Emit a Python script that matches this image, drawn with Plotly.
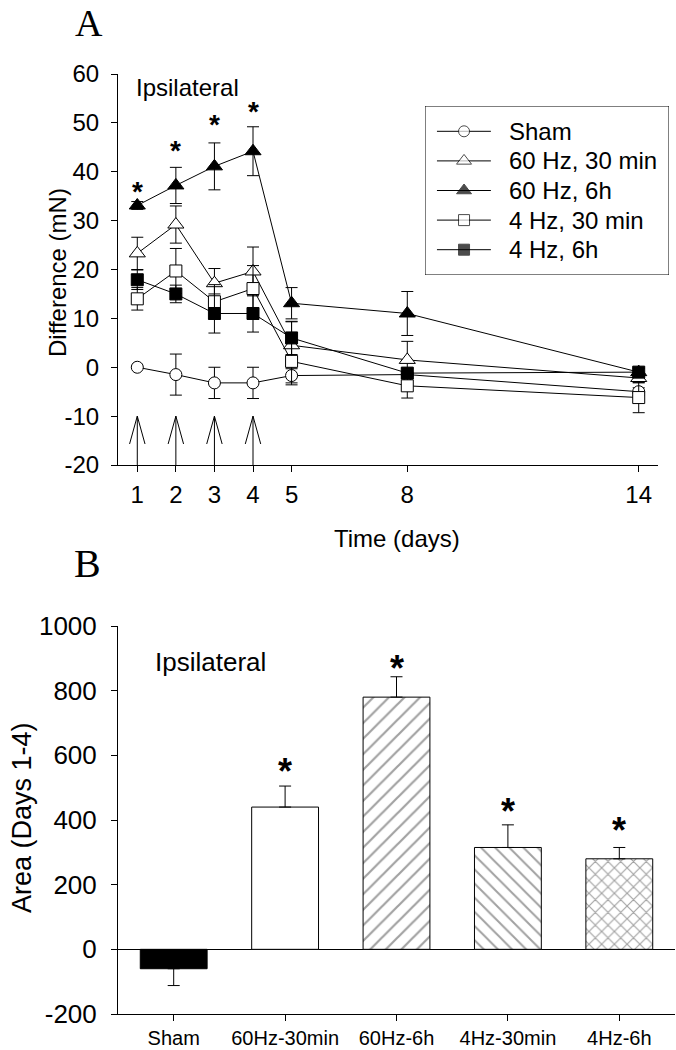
import plotly.graph_objects as go

# ---------------- Panel A data ----------------
days = [1, 2, 3, 4, 5, 8, 14]
day_ticks = [1, 2, 3, 4, 5, 8, 14]
y_ticks_a = [-20, -10, 0, 10, 20, 30, 40, 50, 60]
series_names = ["Sham", "60 Hz, 30 min", "60 Hz, 6h", "4 Hz, 30 min", "4 Hz, 6h"]
sham = [0.0, -1.5, -3.2, -3.2, -1.7, -1.5, -5.0]
sham_err = [0.0, 4.2, 3.2, 3.2, 1.9, 0.5, 0.8]
hz60_30 = [23.3, 29.2, 17.2, 19.6, 4.5, 1.5, -2.2]
hz60_30_err = [3.3, 3.8, 3.0, 5.0, 4.8, 3.8, 1.0]
hz60_6h = [33.1, 37.2, 41.1, 44.2, 13.1, 11.0, -1.0]
hz60_6h_err = [0.8, 3.7, 4.8, 5.0, 3.2, 4.5, 0.8]
hz4_30 = [14.0, 19.7, 13.4, 16.1, 1.2, -3.8, -6.2]
hz4_30_err = [2.3, 4.6, 3.5, 4.7, 4.4, 2.5, 3.1]
hz4_6h = [17.9, 15.0, 11.0, 11.0, 6.0, -1.2, -1.0]
hz4_6h_err = [2.0, 1.8, 4.0, 3.8, 3.4, 1.0, 0.8]
star_days_a = [1, 2, 3, 4]
star_y_a = [37.1, 45.5, 50.8, 53.6]
arrow_days = [1, 2, 3, 4]

# ---------------- Panel B data ----------------
groups = ["Sham", "60Hz-30min", "60Hz-6h", "4Hz-30min", "4Hz-6h"]
area = [-60, 440, 780, 315, 280]
area_err = [52, 65, 63, 70, 35]
star_y_b = [None, 575, 893, 451, 393]
y_ticks_b = [-200, 0, 200, 400, 600, 800, 1000]

FONT = "Liberation Sans, Arial, sans-serif"
SERIF = "Liberation Serif, Times New Roman, serif"
W, H = 676, 1050


def px_x(p):
    return p / W


def px_y(p):
    return 1 - p / H


fig = go.Figure()

styles = [
    dict(symbol="circle", color="white", size=12),
    dict(symbol="triangle-up", color="white", size=14),
    dict(symbol="triangle-up", color="black", size=14),
    dict(symbol="square", color="white", size=12),
    dict(symbol="square", color="black", size=12),
]
vals = [sham, hz60_30, hz60_6h, hz4_30, hz4_6h]
errs = [sham_err, hz60_30_err, hz60_6h_err, hz4_30_err, hz4_6h_err]

for name, v, e, st in zip(series_names, vals, errs, styles):
    fig.add_trace(go.Scatter(
        x=days, y=v, name=name, mode="lines+markers",
        line=dict(color="black", width=1),
        marker=dict(symbol=st["symbol"], size=st["size"], color=st["color"],
                    line=dict(color="black", width=1)),
        error_y=dict(type="data", array=e, visible=True, color="black",
                     thickness=1, width=6),
        xaxis="x", yaxis="y", showlegend=False,
    ))

# ---- manual legend (drawn in its own overlay axes) ----
n = len(series_names)
row_step = 29.6 / 169.0
for i, (name, st) in enumerate(zip(series_names, styles)):
    ry = 0.5 + ((n - 1) / 2 - i) * row_step
    fig.add_trace(go.Scatter(
        x=[0.049, 0.16, 0.27], y=[ry, ry, ry], mode="lines+markers",
        line=dict(color="black", width=1),
        marker=dict(symbol=st["symbol"], size=[0, st["size"] - 1, 0], color=st["color"],
                    line=dict(color="black", width=1)),
        xaxis="x3", yaxis="y3", showlegend=False, hoverinfo="skip",
    ))

# Panel B bars
fig.add_trace(go.Bar(
    x=groups, y=area,
    marker=dict(
        color=["black", "white", "white", "white", "white"],
        line=dict(color="black", width=1),
        pattern=dict(shape=["", "", "/", "\\", "x"], fgcolor="black",
                     bgcolor="white", size=[10, 10, 11, 10, 9],
                     solidity=[0.2, 0.2, 0.2, 0.2, 0.24],
                     fillmode="overlay"),
    ),
    error_y=dict(type="data",
                 array=[0 if a < 0 else e for a, e in zip(area, area_err)],
                 arrayminus=[e if a < 0 else 0 for a, e in zip(area, area_err)],
                 visible=True, color="black", thickness=1, width=6),
    width=0.6, xaxis="x2", yaxis="y2", showlegend=False,
))

ann = []
for d, y in zip(star_days_a, star_y_a):
    ann.append(dict(x=d, y=y, xref="x", yref="y", text="<b>*</b>", showarrow=False,
                    font=dict(size=28, family=FONT, color="black"), yshift=-6))
for g, y in zip(groups, star_y_b):
    if y is not None:
        ann.append(dict(x=g, y=y, xref="x2", yref="y2", text="<b>*</b>", showarrow=False,
                        font=dict(size=36, family=FONT, color="black"), yshift=-8))

for i, name in enumerate(series_names):
    ry = 0.5 + ((n - 1) / 2 - i) * row_step
    ann.append(dict(x=0.336, y=ry, xref="x3", yref="y3", text=name, showarrow=False,
                    xanchor="left", yanchor="middle",
                    font=dict(size=24, family=FONT, color="black")))

ann += [
    dict(x=1, y=57.2, xref="x", yref="y", text="Ipsilateral", showarrow=False,
         xanchor="left", yanchor="middle", font=dict(size=24, family=FONT, color="black"),
         xshift=-3),
    dict(x=0.063, y=888, xref="x2 domain", yref="y2", text="Ipsilateral", showarrow=False,
         xanchor="left", yanchor="middle", font=dict(size=26, family=FONT, color="black")),
    dict(x=px_x(89), y=px_y(23), xref="paper", yref="paper", text="A", showarrow=False,
         xanchor="center", yanchor="middle", font=dict(size=38, family=SERIF, color="black")),
    dict(x=px_x(87), y=px_y(563), xref="paper", yref="paper", text="B", showarrow=False,
         xanchor="center", yanchor="middle", font=dict(size=40, family=SERIF, color="black")),
    dict(x=px_x(58), y=px_y(272), xref="paper", yref="paper", text="Difference (mN)",
         textangle=-90, showarrow=False, xanchor="center", yanchor="middle",
         font=dict(size=24, family=FONT, color="black")),
    dict(x=px_x(397), y=px_y(538), xref="paper", yref="paper", text="Time (days)",
         showarrow=False, xanchor="center", yanchor="middle",
         font=dict(size=24, family=FONT, color="black")),
    dict(x=px_x(22), y=px_y(818), xref="paper", yref="paper", text="Area (Days 1-4)",
         textangle=-90, showarrow=False, xanchor="center", yanchor="middle",
         font=dict(size=27, family=FONT, color="black")),
]

shapes = [dict(type="rect", xref="x3", yref="y3", x0=0, x1=1, y0=0, y1=1,
               line=dict(color="black", width=1), fillcolor="rgba(0,0,0,0)")]
for d in arrow_days:
    shapes.append(dict(type="line", xref="x", yref="y", x0=d, x1=d, y0=-20, y1=-10,
                       line=dict(color="black", width=1)))
    shapes.append(dict(type="line", xref="x", yref="y", x0=d - 0.2, x1=d, y0=-15.7, y1=-10,
                       line=dict(color="black", width=1)))
    shapes.append(dict(type="line", xref="x", yref="y", x0=d + 0.2, x1=d, y0=-15.7, y1=-10,
                       line=dict(color="black", width=1)))

axis_common = dict(showline=True, linecolor="black", linewidth=1, ticks="outside",
                   ticklen=6, tickcolor="black", showgrid=False, zeroline=False)

fig.update_layout(
    width=W, height=H,
    margin=dict(l=0, r=0, t=0, b=0, autoexpand=False),
    paper_bgcolor="white", plot_bgcolor="white",
    xaxis=dict(domain=[px_x(118), px_x(658)], range=[0.5, 14.5], tickvals=day_ticks,
               ticktext=[str(t) for t in day_ticks], anchor="y", ticklabelstandoff=2,
               tickfont=dict(size=24, family=FONT, color="black"), **axis_common),
    yaxis=dict(domain=[px_y(465), px_y(74)], range=[-20, 60], tickvals=y_ticks_a,
               ticktext=[str(t) for t in y_ticks_a], anchor="x", ticklabelstandoff=7,
               tickfont=dict(size=24, family=FONT, color="black"), **axis_common),
    xaxis2=dict(domain=[px_x(118), px_x(675)], range=[-0.5, 4.5], anchor="y2",
                ticklabelstandoff=0,
                tickfont=dict(size=20, family=FONT, color="black"), **axis_common),
    yaxis2=dict(domain=[px_y(1014), px_y(626)], range=[-200, 1000], tickvals=y_ticks_b,
                ticktext=[str(t) for t in y_ticks_b], anchor="x2", ticklabelstandoff=9,
                showline=True, linecolor="black", linewidth=1, ticks="outside",
                ticklen=6, tickcolor="black", showgrid=False,
                zeroline=True, zerolinecolor="black", zerolinewidth=1,
                tickfont=dict(size=26, family=FONT, color="black")),
    xaxis3=dict(domain=[px_x(425), px_x(669)], range=[0, 1], visible=False,
                fixedrange=True, anchor="y3"),
    yaxis3=dict(domain=[px_y(275), px_y(106)], range=[0, 1], visible=False,
                fixedrange=True, anchor="x3"),
    showlegend=False,
    annotations=ann,
    shapes=shapes,
)

fig.write_html(
    "out.html",
    config={"displayModeBar": False},
    post_script="document.body.style.margin='0';document.body.style.overflow='hidden';",
)
